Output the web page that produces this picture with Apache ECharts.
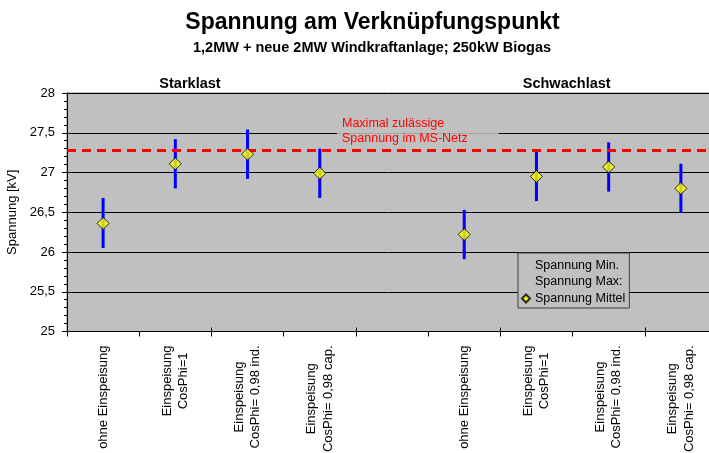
<!DOCTYPE html>
<html>
<head>
<meta charset="utf-8">
<script src="https://cdn.jsdelivr.net/npm/echarts@6/dist/echarts.min.js"></script>
<style>
  html, body { margin: 0; padding: 0; background: #ffffff; }
  #chart { width: 709px; height: 453px; }
</style>
</head>
<body>
<div id="chart"></div>
<script>
// Operating cases (index 4 is an empty spacer between the two load cases)
const categories = [
  'ohne Einspeisung',
  'Einspeisung\nCosPhi=1',
  'Einspeisung\nCosPhi= 0,98 ind.',
  'Einspeisung\nCosPhi= 0,98 cap.',
  '',
  'ohne Einspeisung',
  'Einspeisung\nCosPhi=1',
  'Einspeisung\nCosPhi= 0,98 ind.',
  'Einspeisung\nCosPhi= 0,98 cap.'
];

// Voltages in kV
const spannungMin    = [26.05, 26.80, 26.92, 26.68, null, 25.91, 26.64, 26.76, 26.49];
const spannungMax    = [26.68, 27.42, 27.54, 27.30, null, 26.53, 27.26, 27.38, 27.11];
const spannungMittel = [26.36, 27.11, 27.23, 26.99, null, 26.22, 26.95, 27.07, 26.80];

// Upper voltage limit of the MV grid (kV)
const maxSpannung = 27.28;

// Y axis scale
const yMin = 25, yMax = 28, yStep = 0.5;

const FONT = "'Liberation Sans', Arial, sans-serif";

const chart = echarts.init(document.getElementById('chart'), null, { renderer: 'canvas' });

const hiLoData = [];
const meanData = [];
categories.forEach((c, i) => {
  if (spannungMin[i] != null) hiLoData.push([i, spannungMin[i], spannungMax[i]]);
  if (spannungMittel[i] != null) meanData.push([i, spannungMittel[i]]);
});

// Two-line category labels: each line centred within the label block
function labelFormatter(value) {
  if (!value) return '';
  return value.split('\n').map(l => '{c|' + l + '}').join('\n');
}

// Plot area runs slightly past the right edge of the canvas
const gridBox = { left: 67, top: 93, width: 650, height: 238.5 };

const option = {
  animation: false,
  backgroundColor: '#ffffff',
  textStyle: { fontFamily: FONT },
  grid: Object.assign({
    show: true,
    backgroundColor: '#c0c0c0',
    borderColor: '#808080',
    borderWidth: 1,
    containLabel: false,
    outerBoundsMode: 'none'
  }, gridBox),
  legend: {
    orient: 'vertical',
    left: 518,
    top: 253,
    backgroundColor: '#c0c0c0',
    borderColor: '#404040',
    borderWidth: 1,
    borderRadius: 0,
    padding: [6, 4, 3, 3],
    itemWidth: 8,
    itemHeight: 8,
    itemGap: 3.5,
    selectedMode: false,
    textStyle: { fontFamily: FONT, fontSize: 12.5, color: '#000' },
    data: [
      { name: 'Spannung Min.', icon: 'rect', itemStyle: { opacity: 0 } },
      { name: 'Spannung Max:', icon: 'rect', itemStyle: { opacity: 0 } },
      { name: 'Spannung Mittel', icon: 'diamond' }
    ]
  },
  xAxis: [
    {
      type: 'category',
      data: categories,
      boundaryGap: true,
      axisLine: { show: true, lineStyle: { color: '#000', width: 1 } },
      axisTick: { show: true, length: 5, inside: false, lineStyle: { color: '#000' } },
      axisLabel: {
        interval: 0,
        rotate: 90,
        margin: 14,
        color: '#000',
        fontFamily: FONT,
        fontSize: 13,
        lineHeight: 16.5,
        formatter: labelFormatter,
        rich: { c: { align: 'center', fontFamily: FONT, fontSize: 13, lineHeight: 16.5, color: '#000' } }
      },
      splitLine: { show: false }
    },
    {
      type: 'category',
      data: categories,
      position: 'bottom',
      boundaryGap: true,
      axisLine: { show: false },
      axisTick: { show: true, length: 4, inside: true, lineStyle: { color: '#000' } },
      axisLabel: { show: false },
      splitLine: { show: false }
    }
  ],
  yAxis: [
    {
      type: 'value',
      min: yMin,
      max: yMax,
      interval: yStep,
      name: 'Spannung [kV]',
      nameLocation: 'middle',
      nameGap: 40,
      nameTextStyle: { fontFamily: FONT, fontSize: 13, color: '#000' },
      axisLine: { show: true, lineStyle: { color: '#000', width: 1 } },
      axisTick: { show: true, length: 5, lineStyle: { color: '#000' } },
      minorTick: { show: true, splitNumber: 5, length: 3, lineStyle: { color: '#000' } },
      axisLabel: {
        margin: 12,
        color: '#000',
        fontFamily: FONT,
        fontSize: 13,
        formatter: v => String(v).replace('.', ',')
      },
      splitLine: { show: true, lineStyle: { color: '#000', width: 1 } }
    },
    {
      type: 'value',
      min: yMin,
      max: yMax,
      interval: yStep,
      position: 'left',
      axisLine: { show: false },
      axisTick: { show: true, inside: true, length: 4, lineStyle: { color: '#000' } },
      axisLabel: { show: false },
      splitLine: { show: false }
    }
  ],
  series: [
    {
      name: 'Spannung Min.',
      type: 'scatter',
      data: categories.map((c, i) => [i, spannungMin[i] == null ? '-' : spannungMin[i]]),
      symbolSize: 0,
      itemStyle: { color: 'rgba(0,0,0,0)' },
      silent: true,
      z: 2,
      markLine: {
        silent: true,
        symbol: 'none',
        label: { show: false },
        lineStyle: { color: '#ff0000', width: 3, type: [9, 6] },
        data: [{ yAxis: maxSpannung }]
      }
    },
    {
      name: 'Spannung Max:',
      type: 'scatter',
      data: categories.map((c, i) => [i, spannungMax[i] == null ? '-' : spannungMax[i]]),
      symbolSize: 0,
      itemStyle: { color: 'rgba(0,0,0,0)' },
      silent: true,
      z: 2
    },
    {
      name: 'Min-Max',
      type: 'custom',
      data: hiLoData,
      z: 3,
      silent: true,
      renderItem: (params, api) => {
        const x = api.value(0);
        const p1 = api.coord([x, api.value(1)]);
        const p2 = api.coord([x, api.value(2)]);
        return {
          type: 'line',
          shape: { x1: p1[0], y1: p1[1], x2: p2[0], y2: p2[1] },
          style: { stroke: '#0000ff', lineWidth: 3 }
        };
      }
    },
    {
      name: 'Spannung Mittel',
      type: 'scatter',
      data: meanData,
      symbol: 'diamond',
      symbolSize: 12,
      itemStyle: { color: '#ffff00', borderColor: '#000000', borderWidth: 1 },
      z: 5
    }
  ],
  graphic: [
    {
      type: 'text', x: 372.5, y: 23, silent: true,
      style: { text: 'Spannung am Verknüpfungspunkt', fontFamily: FONT, fontSize: 23, fontWeight: 'bold',
               fill: '#000', align: 'center', verticalAlign: 'middle' }
    },
    {
      type: 'text', x: 372, y: 48, silent: true,
      style: { text: '1,2MW + neue 2MW Windkraftanlage; 250kW Biogas', fontFamily: FONT, fontSize: 14.5, fontWeight: 'bold',
               fill: '#000', align: 'center', verticalAlign: 'middle' }
    },
    {
      type: 'text', x: 190, y: 84, silent: true,
      style: { text: 'Starklast', fontFamily: FONT, fontSize: 14.5, fontWeight: 'bold',
               fill: '#000', align: 'center', verticalAlign: 'middle' }
    },
    {
      type: 'text', x: 566.7, y: 84, silent: true,
      style: { text: 'Schwachlast', fontFamily: FONT, fontSize: 14.5, fontWeight: 'bold',
               fill: '#000', align: 'center', verticalAlign: 'middle' }
    },
    {
      type: 'text', x: 337, y: 131, z: 1, silent: true,
      style: { text: 'Maximal zulässige\nSpannung im MS-Netz', fontFamily: FONT, fontSize: 12.5, lineHeight: 14.5,
               fill: '#ff0000', align: 'left', verticalAlign: 'middle',
               backgroundColor: 'rgba(192,192,192,0.85)', padding: [0, 31, 0, 5] }
    }
  ]
};

chart.setOption(option);
</script>
</body>
</html>
